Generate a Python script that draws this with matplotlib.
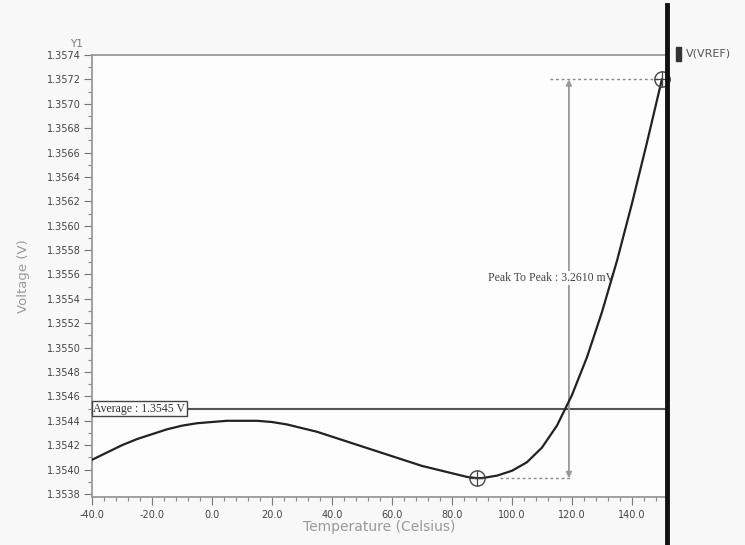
import numpy as np
import matplotlib.pyplot as plt
from matplotlib.lines import Line2D
from matplotlib.ticker import MultipleLocator, FormatStrFormatter

# V(VREF) versus temperature
temp = [-40, -35, -30, -25, -20, -15, -10, -5, 0, 5, 10, 15, 20, 25, 30, 35,
        40, 45, 50, 55, 60, 65, 70, 75, 80, 85, 88, 90, 95, 100, 105, 110,
        115, 120, 125, 130, 135, 140, 145, 150]
vref = [1.35408, 1.35414, 1.35420, 1.35425, 1.35429, 1.35433, 1.35436,
        1.35438, 1.35439, 1.35440, 1.35440, 1.35440, 1.35439, 1.35437,
        1.35434, 1.35431, 1.35427, 1.35423, 1.35419, 1.35415, 1.35411,
        1.35407, 1.35403, 1.35400, 1.35397, 1.35394, 1.35393, 1.35393,
        1.35395, 1.35399, 1.35406, 1.35418, 1.35436, 1.35461, 1.35492,
        1.35529, 1.35571, 1.35618, 1.35668, 1.35720]

average = 1.3545
t_min, v_min = 88.3, 1.35393
t_max, v_max = 150.0, 1.35720
t_arrow = 119.0

fig = plt.figure(figsize=(7.45, 5.45), dpi=100, facecolor='#f8f8f8')
ax = fig.add_axes([92/745, 48/545, 575/745, 442/545], facecolor='#fdfdfd')

# curve
ax.plot(temp, vref, color='#222222', lw=1.6, zorder=4)

# average line and label
ax.axhline(average, color='#555555', lw=1.5)
ax.text(-39.5, average, 'Average : 1.3545 V', fontsize=8.5, family='Liberation Serif',
        color='#333333', va='center', ha='left',
        bbox=dict(boxstyle='square,pad=0.15', fc='#fdfdfd', ec='#444444', lw=1.0))

# min / max cursors
for t, v in [(t_min, v_min), (t_max, v_max)]:
    ax.plot(t, v, 'o', ms=11, mfc='none', mec='#444444', mew=1.0, clip_on=False, zorder=5)
    ax.plot(t, v, '+', ms=11, mec='#444444', mew=0.9, clip_on=False, zorder=5)

# peak to peak measurement
ax.plot([112.7, t_max], [v_max, v_max], color='#888888', lw=1, ls=(0, (2, 2)))
ax.plot([96, 120], [v_min, v_min], color='#888888', lw=1, ls=(0, (2, 2)))
ax.annotate('', xy=(t_arrow, v_min), xytext=(t_arrow, v_max),
            arrowprops=dict(arrowstyle='<|-|>', color='#999999', lw=1.3,
                            mutation_scale=8, shrinkA=0, shrinkB=0))
ax.text(113, 1.35557, 'Peak To Peak : 3.2610 mV', fontsize=8.5,
        family='Liberation Serif', color='#444444', ha='center', va='center',
        zorder=3, bbox=dict(boxstyle='square,pad=0.1', fc='#fdfdfd', ec='none'))

# axes limits and ticks
ax.set_xlim(-40, 151.7)
ax.set_ylim(1.353775, 1.3574)
ax.xaxis.set_major_locator(MultipleLocator(20))
ax.xaxis.set_minor_locator(MultipleLocator(4))
ax.yaxis.set_major_locator(MultipleLocator(0.0002))
ax.yaxis.set_minor_locator(MultipleLocator(0.0001))
ax.xaxis.set_major_formatter(FormatStrFormatter('%.1f'))
ax.yaxis.set_major_formatter(FormatStrFormatter('%.4f'))
ax.tick_params(axis='both', which='major', direction='out', length=6, width=0.8,
               color='#777777', labelsize=7, labelcolor='#444444')
ax.tick_params(axis='both', which='minor', direction='out', length=3, width=0.8,
               color='#888888')
ax.tick_params(axis='y', pad=2)

for side in ['left', 'bottom', 'top']:
    ax.spines[side].set_color('#999999')
    ax.spines[side].set_linewidth(1.3)
ax.spines['right'].set_visible(False)

ax.set_xlabel('Temperature (Celsius)', fontsize=10, color='#999999', labelpad=0)
ax.set_ylabel('Voltage (V)', fontsize=9.5, color='#999999', labelpad=12)
ax.text(-0.015, 1.025, 'Y1', transform=ax.transAxes, fontsize=7.5,
        color='#777777', ha='right', va='center')

# thick black right border and legend entry
fig.add_artist(Line2D([667/745, 667/745], [0, 540/545], color='#111111', lw=3.5))
fig.patches.append(plt.Rectangle((676/745, 484/545), 5/745, 14/545,
                                 transform=fig.transFigure, color='#333333'))
fig.text(686/745, 491/545, 'V(VREF)', fontsize=8, color='#555555', va='center')

fig.savefig('out.png', dpi=100, facecolor=fig.get_facecolor())
